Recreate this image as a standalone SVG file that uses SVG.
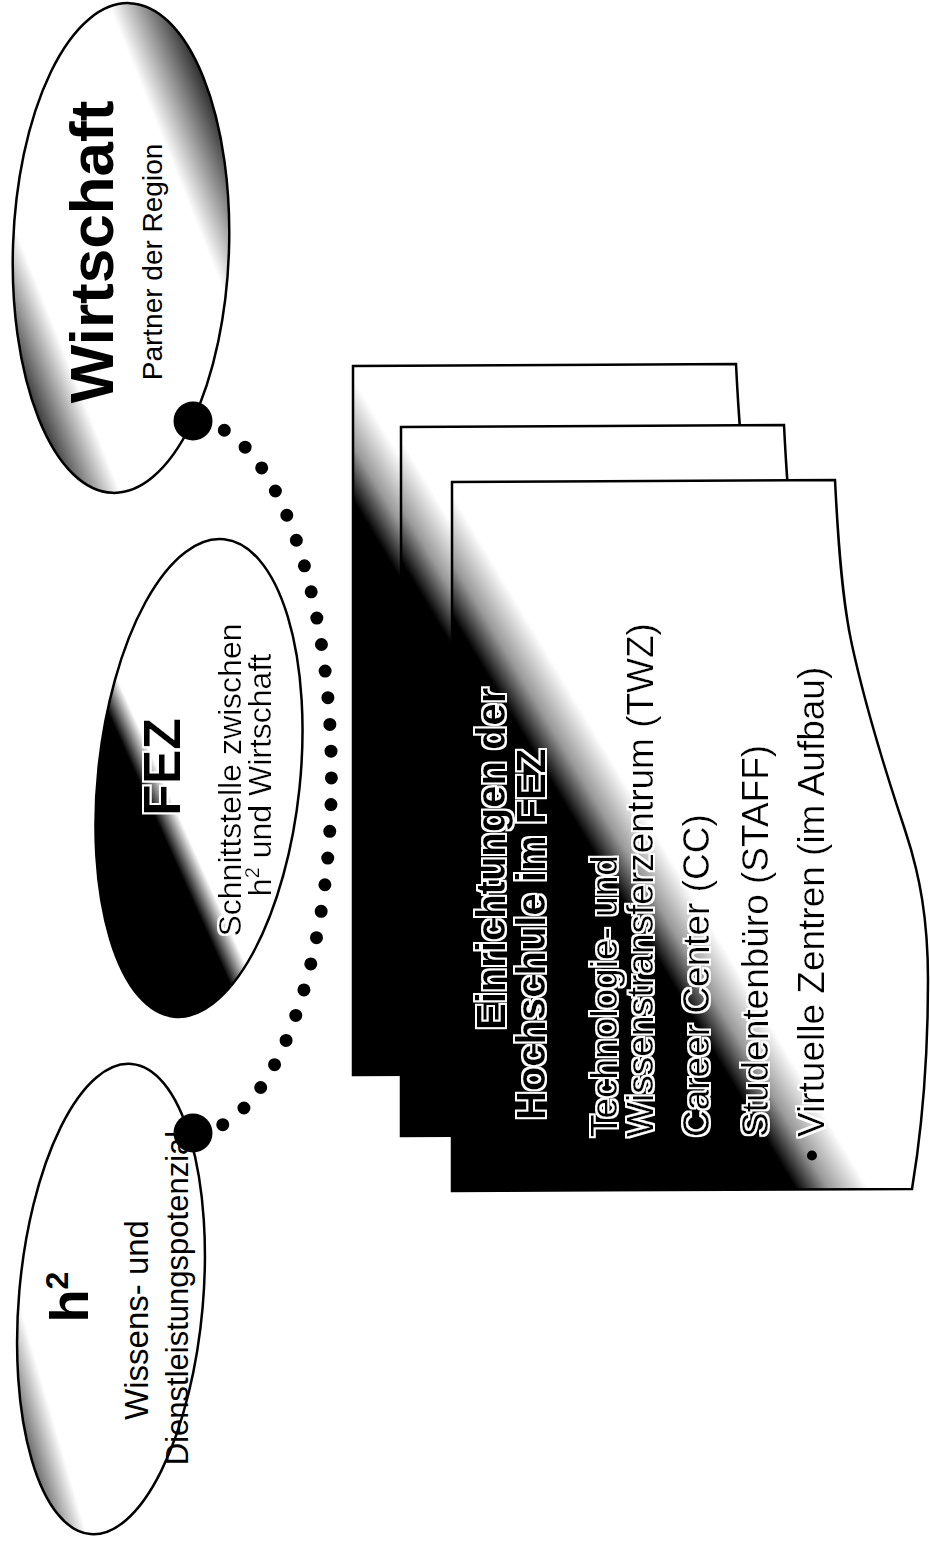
<svg xmlns="http://www.w3.org/2000/svg" width="930" height="1560" viewBox="0 0 930 1560">
<defs>
<style>
.t{font-family:"Liberation Sans",Arial,Helvetica,sans-serif;fill:#000}
.b{font-weight:700}
.ell{stroke:#000;stroke-width:2.5}
.card{stroke:#000;stroke-width:2.5}
.ct{font-family:"Liberation Sans",Arial,Helvetica,sans-serif;font-size:37px;fill:#000}
.bul{font-family:"Liberation Sans",Arial,sans-serif;font-size:37px;fill:#000}
.dots{fill:none;stroke:#000;stroke-width:13;stroke-linecap:round;stroke-dasharray:0 26.6;stroke-dashoffset:-6.4}
.big{fill:#000}
</style>
<filter id="halo" x="-10%" y="-10%" width="120%" height="120%">
<feMorphology in="SourceAlpha" operator="dilate" radius="1.8" result="d"/>
<feFlood flood-color="#fff"/>
<feComposite in2="d" operator="in" result="w"/>
<feMerge><feMergeNode in="w"/><feMergeNode in="SourceGraphic"/></feMerge>
</filter>
<linearGradient id="gW" x1="0" y1="1" x2="1" y2="0">
<stop offset="0" stop-color="#000"/>
<stop offset="0.13" stop-color="#222"/>
<stop offset="0.27" stop-color="#fff"/>
<stop offset="0.7" stop-color="#fff"/>
<stop offset="0.85" stop-color="#333"/>
<stop offset="1" stop-color="#000"/>
</linearGradient>
<linearGradient id="gF" x1="0.28" y1="1.009" x2="0.72" y2="0.401">
<stop offset="0" stop-color="#000"/>
<stop offset="0.47" stop-color="#000"/>
<stop offset="0.51" stop-color="#666"/>
<stop offset="0.57" stop-color="#fff"/>
<stop offset="1" stop-color="#fff"/>
</linearGradient>
<linearGradient id="gH" x1="0" y1="1" x2="1" y2="0">
<stop offset="0" stop-color="#000"/>
<stop offset="0.1" stop-color="#222"/>
<stop offset="0.24" stop-color="#fff"/>
<stop offset="0.88" stop-color="#fff"/>
<stop offset="1" stop-color="#777"/>
</linearGradient>
<linearGradient id="gC" gradientUnits="userSpaceOnUse" x1="591" y1="943" x2="711" y2="871">
<stop offset="0" stop-color="#000"/>
<stop offset="0.35" stop-color="#000"/>
<stop offset="0.55" stop-color="#999"/>
<stop offset="0.8" stop-color="#fff"/>
<stop offset="1" stop-color="#fff"/>
</linearGradient>
<path id="cardShape" class="card" fill="url(#gC)" d="M452,482 L835,480 C838,540 842,600 852,645 C865,705 885,770 905,830 C920,875 928,920 928,980 C928,1060 921,1135 912,1189 L452,1191 Z"/>
</defs>
<rect x="0" y="0" width="930" height="1560" fill="#fff"/>

<g id="wirtschaft">
<ellipse class="ell" fill="url(#gW)" cx="121" cy="248" rx="108" ry="245" transform="rotate(2 121 248)"/>
<text class="t b" font-size="62" text-anchor="middle" transform="translate(113,252) rotate(-90)">Wirtschaft</text>
<text class="t" font-size="28" text-anchor="middle" transform="translate(162,262) rotate(-90)">Partner der Region</text>
</g>

<g id="fez">
<ellipse class="ell" fill="url(#gF)" cx="199" cy="778" rx="101" ry="240" transform="rotate(6 199 778)"/>
<g filter="url(#halo)">
<text class="t b" font-size="52" text-anchor="middle" transform="translate(180,767) rotate(-90)">FEZ</text>
<text class="t" font-size="32" text-anchor="middle" transform="translate(241,780) rotate(-90)">Schnittstelle zwischen</text>
<text class="t" font-size="32" text-anchor="middle" transform="translate(271,775) rotate(-90)">h<tspan font-size="20" dy="-12">2</tspan><tspan dy="12"> und Wirtschaft</tspan></text>
</g>
</g>

<g id="h2">
<ellipse class="ell" fill="url(#gH)" cx="111" cy="1299" rx="92" ry="236" transform="rotate(5 111 1299)"/>
<text class="t b" font-size="54" text-anchor="middle" transform="translate(88,1297) rotate(-90)">h<tspan font-size="32" dy="-20">2</tspan></text>
<text class="t" font-size="33" text-anchor="middle" transform="translate(148,1320) rotate(-90)">Wissens- und</text>
<text class="t" font-size="31" text-anchor="middle" transform="translate(188,1298) rotate(-90)">Dienstleistungspotenzial</text>
</g>

<g id="connectors">
<path class="dots" pathLength="809" d="M193,421 A138,355 0 0 1 193,1133"/>
<circle class="big" cx="193" cy="421" r="19.5"/>
<circle class="big" cx="193" cy="1133" r="19.5"/>
</g>

<g id="cards">
<use href="#cardShape" transform="translate(-99,-116)"/>
<use href="#cardShape" transform="translate(-51,-55)"/>
<use href="#cardShape"/>
<g filter="url(#halo)">
<text class="ct b" style="font-size:40px" transform="translate(505,1030) rotate(-90)">Einrichtungen der</text>
<text class="ct b" style="font-size:40px" transform="translate(545,1120) rotate(-90)">Hochschule im FEZ</text>
<text class="ct" transform="translate(617,1137) rotate(-90)">Technologie- und</text>
<text class="ct" transform="translate(653,1137) rotate(-90)">Wissenstransferzentrum (TWZ)</text>
<text class="ct" transform="translate(709,1137) rotate(-90)">Career Center (CC)</text>
<text class="ct" transform="translate(768,1137) rotate(-90)">Studentenbüro (STAFF)</text>
<text class="ct" transform="translate(824,1137) rotate(-90)">Virtuelle Zentren (im Aufbau)</text>
</g>
<text class="bul" transform="translate(617,1162) rotate(-90)">•</text>
<text class="bul" transform="translate(709,1162) rotate(-90)">•</text>
<text class="bul" transform="translate(768,1162) rotate(-90)">•</text>
<text class="bul" transform="translate(824,1162) rotate(-90)">•</text>
</g>
</svg>
